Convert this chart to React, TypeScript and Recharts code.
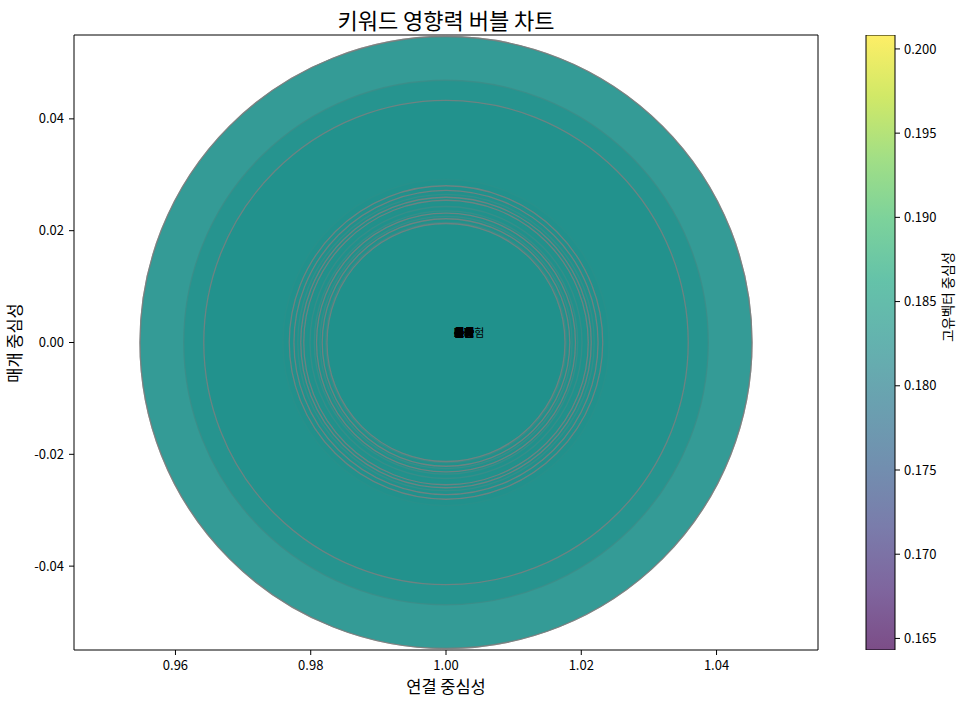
import { ScatterChart, Scatter, XAxis, YAxis, ZAxis, BarChart, Bar } from "recharts"

const keywords = [
  "보험", "금융", "투자", "시장", "경제", "기업", "주가", "금리", "환율", "부채",
  "자산", "수익", "손실", "정책", "규제", "세금", "예금", "대출", "연금", "채권",
  "펀드", "주식", "물가", "성장", "소비", "수출", "고용", "은행", "신용", "고위험",
]
const frequency = [
  324, 62, 238, 49, 92, 55, 324, 71, 51, 203,
  85, 58, 76, 50, 67, 53, 80, 49, 73, 56,
  52, 64, 60, 51, 70, 55, 58, 50, 53, 49,
]
const degreeCentrality = [
  1.0, 1.0, 1.0, 1.0, 1.0, 1.0, 1.0, 1.0, 1.0, 1.0,
  1.0, 1.0, 1.0, 1.0, 1.0, 1.0, 1.0, 1.0, 1.0, 1.0,
  1.0, 1.0, 1.0, 1.0, 1.0, 1.0, 1.0, 1.0, 1.0, 1.0,
]
const betweennessCentrality = [
  0, 0, 0, 0, 0, 0, 0, 0, 0, 0,
  0, 0, 0, 0, 0, 0, 0, 0, 0, 0,
  0, 0, 0, 0, 0, 0, 0, 0, 0, 0,
]
const eigenvectorCentrality = [
  0.18257, 0.18257, 0.18257, 0.18257, 0.18257, 0.18257, 0.18257, 0.18257, 0.18257, 0.18257,
  0.18257, 0.18257, 0.18257, 0.18257, 0.18257, 0.18257, 0.18257, 0.18257, 0.18257, 0.18257,
  0.18257, 0.18257, 0.18257, 0.18257, 0.18257, 0.18257, 0.18257, 0.18257, 0.18257, 0.18257,
]

const xTicks = [0.96, 0.98, 1.0, 1.02, 1.04]
const yTicks = [-0.04, -0.02, 0.0, 0.02, 0.04]
const colorTicks = [0.165, 0.17, 0.175, 0.18, 0.185, 0.19, 0.195, 0.2]

// viridis, sampled every 0.1
const viridis = [
  "#440154", "#482475", "#414487", "#355f8d", "#2a788e", "#21918c",
  "#22a884", "#44bf70", "#7ad151", "#bddf26", "#fde725",
]

const FONT = '"Noto Sans CJK KR", "Noto Sans", sans-serif'
const MAX_R = 306

// single value -> matplotlib expands the colour limits by 10%
const eMin = Math.min(...eigenvectorCentrality)
const eMax = Math.max(...eigenvectorCentrality)
const vmin = eMin === eMax ? eMin * 0.9 : eMin
const vmax = eMin === eMax ? eMax * 1.1 : eMax

function cmap(v: number) {
  const t = Math.max(0, Math.min(1, (v - vmin) / (vmax - vmin))) * 10
  const i = Math.min(9, Math.floor(t))
  const f = t - i
  const a = viridis[i], b = viridis[i + 1]
  const ch = (h: string, k: number) => parseInt(h.slice(1 + k * 2, 3 + k * 2), 16)
  const c = [0, 1, 2].map((k) => Math.round(ch(a, k) + (ch(b, k) - ch(a, k)) * f))
  return `rgb(${c.join(",")})`
}

const data = keywords.map((k, i) => ({
  keyword: k,
  degree: degreeCentrality[i],
  betweenness: betweennessCentrality[i],
  eigen: eigenvectorCentrality[i],
  freq: frequency[i],
}))

const colorbarData = [{ name: "cb", range: [vmin, vmax] }]

const maxFreq = Math.max(...frequency)

function Txt({ x, y, size, rotate = 0, children }: any) {
  return (
    <div
      style={{
        position: "absolute", left: x, top: y, fontSize: size, lineHeight: 1,
        whiteSpace: "nowrap", color: "#000",
        transform: `translate(-50%, -50%) rotate(${rotate}deg)`,
      }}
    >
      {children}
    </div>
  )
}

const Bubble = (p: any) => {
  const r = Math.sqrt(p.size / Math.PI)
  return (
    <circle cx={p.cx} cy={p.cy} r={r} fill={cmap(p.payload.eigen)} fillOpacity={0.7}
      stroke="#808080" strokeOpacity={0.8} strokeWidth={1.3} />
  )
}

const KeywordLabel = (p: any) => (
  <text x={p.cx + 8} y={p.cy - 6} fontSize={11} fill="#000" fontFamily={FONT}>
    {p.payload.keyword}
  </text>
)

export default function App() {
  const tick = { fill: "#000", fontSize: 13, fontFamily: FONT }
  return (
    <div style={{ position: "absolute", left: 0, top: 0, width: 967, height: 706, background: "#fff", fontFamily: FONT }}>
      <ScatterChart width={967} height={706} margin={{ top: 34, right: 148, bottom: 0, left: 14 }}>
        <XAxis type="number" dataKey="degree" domain={[0.945, 1.055]} ticks={xTicks} allowDataOverflow
          tickFormatter={(v) => v.toFixed(2)} tick={tick} height={56} tickSize={5} tickMargin={6}
          stroke="#000" tickLine={{ stroke: "#000" }} />
        <XAxis xAxisId="top" orientation="top" type="number" domain={[0.945, 1.055]} height={1}
          ticks={[]} tick={false} tickLine={false} stroke="#000" />
        <YAxis type="number" dataKey="betweenness" domain={[-0.055, 0.055]} ticks={yTicks} allowDataOverflow
          tickFormatter={(v) => v.toFixed(2)} tick={tick} width={60} tickSize={5} tickMargin={5}
          stroke="#000" tickLine={{ stroke: "#000" }} />
        <YAxis yAxisId="right" orientation="right" type="number" domain={[-0.055, 0.055]} width={1}
          ticks={[]} tick={false} tickLine={false} stroke="#000" />
        <ZAxis type="number" dataKey="freq" domain={[0, maxFreq]} range={[0, Math.PI * MAX_R * MAX_R]} />
        <Scatter data={data} shape={Bubble} isAnimationActive={false} />
        <Scatter data={data} shape={KeywordLabel} isAnimationActive={false} />
      </ScatterChart>

      <div style={{ position: "absolute", left: 836, top: 0 }}>
        <BarChart width={131} height={706} data={colorbarData} barCategoryGap={0}
          margin={{ top: 35, right: 12, bottom: 56, left: 30 }}>
          <defs>
            <linearGradient id="viridisBar" x1="0" y1="1" x2="0" y2="0">
              {viridis.map((c, i) => (
                <stop key={i} offset={i / 10} stopColor={c} stopOpacity={0.7} />
              ))}
            </linearGradient>
          </defs>
          <XAxis dataKey="name" hide height={0} />
          <YAxis orientation="right" type="number" domain={[vmin, vmax]} ticks={colorTicks} allowDataOverflow
            tickFormatter={(v) => v.toFixed(3)} tick={tick} width={60} tickSize={5} tickMargin={4}
            axisLine={false} tickLine={{ stroke: "#000" }} />
          <Bar dataKey="range" fill="url(#viridisBar)" stroke="#000" strokeWidth={1} isAnimationActive={false} />
        </BarChart>
      </div>

      <Txt x={446} y={19} size={22}>키워드 영향력 버블 차트</Txt>
      <Txt x={446} y={686} size={16.5}>연결 중심성</Txt>
      <Txt x={14} y={343} size={16.5} rotate={-90}>매개 중심성</Txt>
      <Txt x={948} y={297} size={13.5} rotate={-90}>고유벡터 중심성</Txt>
    </div>
  )
}
